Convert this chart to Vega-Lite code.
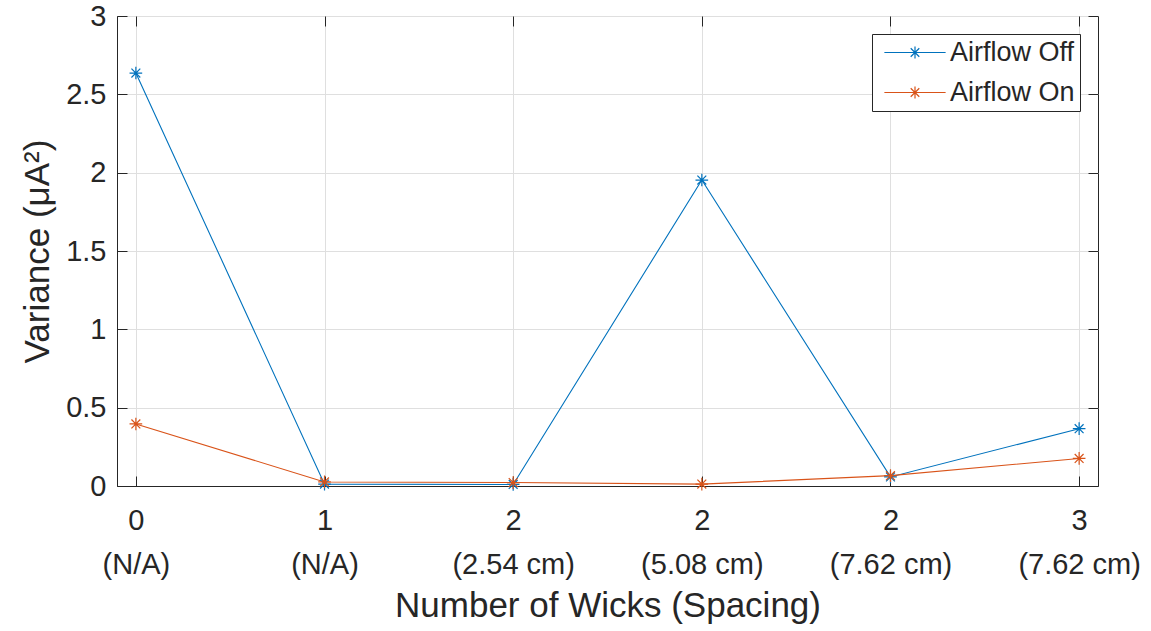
{
  "$schema": "https://vega.github.io/schema/vega-lite/v6.json",
  "autosize": "none",
  "padding": {"left": 117, "top": 16, "right": 53, "bottom": 145},
  "width": 981,
  "height": 470,
  "background": "white",
  "config": {
    "font": "Liberation Sans",
    "view": {"stroke": "#262626", "strokeWidth": 1},
    "axis": {
      "labelFont": "Liberation Sans",
      "titleFont": "Liberation Sans",
      "labelColor": "#262626",
      "titleColor": "#262626",
      "labelFontSize": 29,
      "titleFontSize": 35,
      "titleFontWeight": "normal",
      "domainColor": "#262626",
      "tickColor": "#262626",
      "gridColor": "#dfdfdf",
      "gridWidth": 1,
      "tickSize": -10,
      "tickWidth": 1
    }
  },
  "data": {
    "values": [
      {"cond": "0\n(N/A)", "series": "Airflow Off", "variance": 2.636},
      {"cond": "1\n(N/A)", "series": "Airflow Off", "variance": 0.012},
      {"cond": "2\n(2.54 cm)", "series": "Airflow Off", "variance": 0.010},
      {"cond": "2\n(5.08 cm)", "series": "Airflow Off", "variance": 1.953},
      {"cond": "2\n(7.62 cm)", "series": "Airflow Off", "variance": 0.058},
      {"cond": "3\n(7.62 cm)", "series": "Airflow Off", "variance": 0.366},
      {"cond": "0\n(N/A)", "series": "Airflow On", "variance": 0.396},
      {"cond": "1\n(N/A)", "series": "Airflow On", "variance": 0.026},
      {"cond": "2\n(2.54 cm)", "series": "Airflow On", "variance": 0.022},
      {"cond": "2\n(5.08 cm)", "series": "Airflow On", "variance": 0.012},
      {"cond": "2\n(7.62 cm)", "series": "Airflow On", "variance": 0.066},
      {"cond": "3\n(7.62 cm)", "series": "Airflow On", "variance": 0.176}
    ]
  },
  "layer": [
    {
      "mark": {"type": "line", "strokeWidth": 1.1},
      "encoding": {
        "x": {
          "field": "cond",
          "type": "nominal",
          "sort": null,
          "scale": {"type": "point", "padding": 0.1},
          "axis": {
            "orient": "bottom",
            "labelAngle": 0,
            "labelExpr": "split(datum.value, '\\n')",
            "labelLineHeight": 44,
            "labelPadding": 30,
            "title": "Number of Wicks (Spacing)",
            "titlePadding": 9,
            "grid": true
          }
        },
        "y": {
          "field": "variance",
          "type": "quantitative",
          "scale": {"domain": [0, 3], "nice": false},
          "axis": {
            "orient": "left",
            "values": [0, 0.5, 1, 1.5, 2, 2.5, 3],
            "format": ".1~f",
            "labelPadding": 21,
            "title": "Variance (μA²)",
            "titlePadding": 10,
            "grid": true
          }
        },
        "color": {
          "field": "series",
          "type": "nominal",
          "scale": {"domain": ["Airflow Off", "Airflow On"], "range": ["#0072BD", "#D95319"]},
          "legend": {
            "orient": "top-right",
            "offset": 18,
            "title": null,
            "symbolType": "M-1,0L9,0M3,0L5,0M4,-1L4,1M3.3,-0.7L4.7,0.7M3.3,0.7L4.7,-0.7",
            "symbolSize": 150,
            "symbolStrokeWidth": 1.2,
            "symbolFillColor": "transparent",
            "labelFont": "Liberation Sans",
            "labelFontSize": 27,
            "labelColor": "#262626",
            "labelOffset": 46,
            "rowPadding": 12,
            "padding": 5,
            "strokeColor": "#262626",
            "fillColor": "white"
          }
        }
      }
    },
    {
      "mark": {
        "type": "point",
        "filled": false,
        "shape": "M-1,0L1,0M0,-1L0,1M-0.7,-0.7L0.7,0.7M-0.7,0.7L0.7,-0.7",
        "size": 160,
        "strokeWidth": 1.2,
        "opacity": 1
      },
      "encoding": {
        "x": {
          "field": "cond",
          "type": "nominal",
          "sort": null,
          "axis": {"orient": "top", "labels": false, "title": null, "grid": false, "domain": false}
        },
        "y": {
          "field": "variance",
          "type": "quantitative",
          "axis": {"orient": "right", "values": [0, 0.5, 1, 1.5, 2, 2.5, 3], "labels": false, "title": null, "grid": false, "domain": false}
        },
        "color": {"field": "series", "type": "nominal"}
      }
    }
  ],
  "resolve": {"axis": {"x": "independent", "y": "independent"}}
}
